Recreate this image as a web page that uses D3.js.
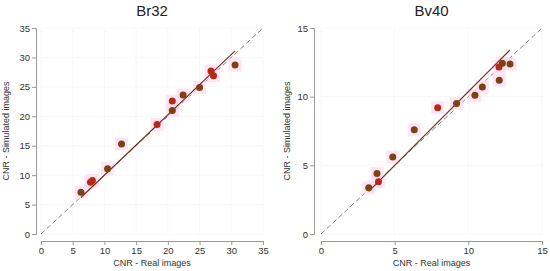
<!DOCTYPE html>
<html>
<head>
<meta charset="utf-8">
<script src="https://cdn.jsdelivr.net/npm/d3@7"></script>
<style>
  body { margin: 0; background: #fff; }
  svg { font-family: "Liberation Sans", Arial, sans-serif; }
</style>
</head>
<body>
<div class="chart"></div>
<script>
// Br32 panel
var brReal = [6.3, 7.8, 8.1, 10.5, 12.7, 18.3, 20.7, 20.7, 22.4, 25.0, 26.8, 27.2, 30.6];
var brSim  = [7.1, 8.8, 9.1, 11.1, 15.3, 18.6, 21.0, 22.6, 23.6, 24.9, 27.7, 26.9, 28.7];
var brRed  = [0, 1, 1, 0, 0, 1, 0, 1, 0, 0, 1, 1, 0];
var brFit  = [[6.3, 6.2], [30.6, 31.1]];
var brTicks = [0, 5, 10, 15, 20, 25, 30, 35];

// Bv40 panel
var bvReal = [3.24, 3.8, 3.9, 4.87, 6.33, 7.92, 9.2, 10.45, 10.95, 12.08, 12.1, 12.31, 12.83];
var bvSim  = [3.37, 4.4, 3.8, 5.6, 7.6, 9.2, 9.5, 10.1, 10.7, 12.16, 11.2, 12.43, 12.38];
var bvRed  = [0, 0, 1, 0, 0, 1, 0, 0, 0, 1, 0, 0, 0];
var bvFit  = [[3.24, 3.1], [12.83, 13.4]];
var bvTicks = [0, 5, 10, 15];

var svg = d3.select(".chart")
  .append("svg")
  .attr("width", 550)
  .attr("height", 271);

function panel(opts) {
  var g = svg.append("g");
  var x = d3.scaleLinear().domain([0, opts.max]).range([opts.x0, opts.x1]);
  var y = d3.scaleLinear().domain([0, opts.max]).range([234, 28]);

  // grid
  g.selectAll(".vgrid").data(opts.ticks).enter().append("line")
    .attr("x1", d => x(d)).attr("x2", d => x(d))
    .attr("y1", y(0)).attr("y2", y(opts.max))
    .attr("stroke", "#ececec").attr("stroke-width", 0.8)
    .attr("stroke-dasharray", "1,1");
  g.selectAll(".hgrid").data(opts.ticks).enter().append("line")
    .attr("x1", x(0)).attr("x2", x(opts.max))
    .attr("y1", d => y(d)).attr("y2", d => y(d))
    .attr("stroke", "#ececec").attr("stroke-width", 0.8)
    .attr("stroke-dasharray", "1,1");

  // axes, offset from plot area
  var xAxis = d3.axisBottom(x).tickValues(opts.ticks).tickSize(4).tickPadding(2);
  var yAxis = d3.axisLeft(y).tickValues(opts.ticks).tickSize(4).tickPadding(2);

  var gx = g.append("g").attr("transform", "translate(0,241)").call(xAxis);
  var gy = g.append("g").attr("transform", `translate(${opts.yAxisX},0)`).call(yAxis);
  [gx, gy].forEach(function(a) {
    a.select(".domain").attr("stroke", "#999");
    a.selectAll(".tick line").attr("stroke", "#999");
    a.selectAll("text").attr("fill", "#333").style("font-size", "9.5px");
  });

  // identity line
  g.append("line")
    .attr("x1", x(0)).attr("y1", y(0))
    .attr("x2", x(opts.max)).attr("y2", y(opts.max))
    .attr("stroke", "#777").attr("stroke-width", 0.9)
    .attr("stroke-dasharray", "5,3");

  var pts = opts.real.map((v, i) => ({ x: v, y: opts.sim[i], red: opts.red[i] }));

  // pink halos
  g.selectAll(".halo").data(pts).enter().append("rect")
    .attr("x", d => x(d.x) - 6.5).attr("y", d => y(d.y) - 6.5)
    .attr("width", 13).attr("height", 13)
    .attr("fill", "#fcdcf4").attr("opacity", 0.75);

  // fit line
  g.append("line")
    .attr("x1", x(opts.fit[0][0])).attr("y1", y(opts.fit[0][1]))
    .attr("x2", x(opts.fit[1][0])).attr("y2", y(opts.fit[1][1]))
    .attr("stroke", "#7a2418").attr("stroke-width", 1.1);

  g.selectAll(".dot").data(pts).enter().append("circle")
    .attr("cx", d => x(d.x)).attr("cy", d => y(d.y))
    .attr("r", 3.5)
    .attr("fill", d => d.red ? "#b52a14" : "#7d4210");

  // titles
  var cx = (opts.x0 + opts.x1) / 2;
  g.append("text")
    .attr("x", cx).attr("y", 16)
    .attr("text-anchor", "middle")
    .style("font-size", "15px").attr("fill", "#222")
    .text(opts.title);
  g.append("text")
    .attr("x", cx).attr("y", 266)
    .attr("text-anchor", "middle")
    .style("font-size", "9px").attr("fill", "#333")
    .text("CNR - Real images");
  g.append("text")
    .attr("transform", `translate(${opts.yTitleX},131) rotate(-90)`)
    .attr("text-anchor", "middle")
    .style("font-size", "9px").attr("fill", "#333")
    .text("CNR - Simulated images");
}

panel({ title: "Br32", max: 35, ticks: brTicks, real: brReal, sim: brSim, red: brRed, fit: brFit,
        x0: 41, x1: 263, yAxisX: 36, yTitleX: 9 });
panel({ title: "Bv40", max: 15, ticks: bvTicks, real: bvReal, sim: bvSim, red: bvRed, fit: bvFit,
        x0: 321, x1: 542, yAxisX: 314, yTitleX: 290 });
</script>
</body>
</html>
